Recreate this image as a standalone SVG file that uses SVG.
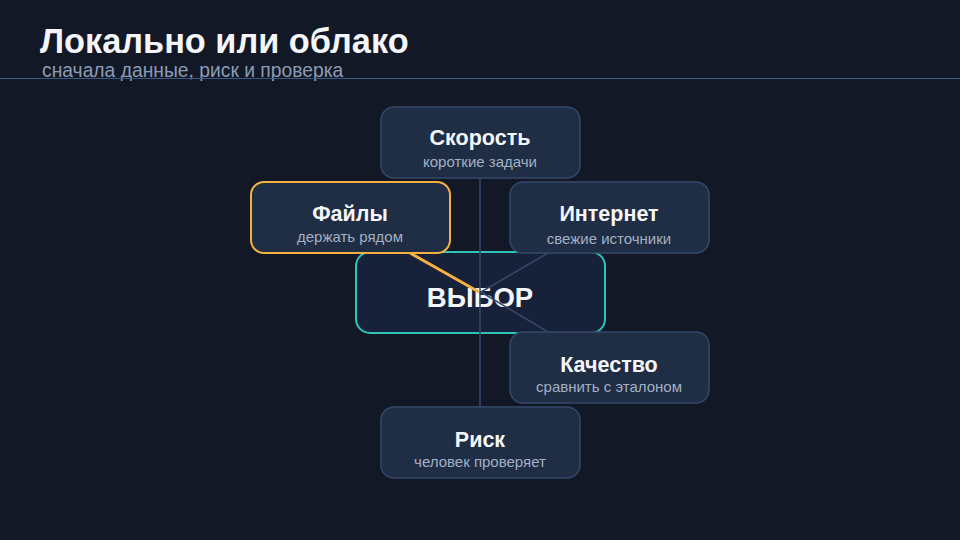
<svg xmlns="http://www.w3.org/2000/svg" width="960" height="540" viewBox="0 0 960 540">
<style>
.node{fill:#1f2d45;stroke:#34496a;stroke-width:1.5}
.t{font-family:"Liberation Sans",Arial,sans-serif;font-weight:bold;font-size:21.5px;fill:#f4f6fa;text-anchor:middle}
.s{font-family:"Liberation Sans",Arial,sans-serif;font-size:15px;fill:#a3b0c4;text-anchor:middle}
.c{stroke:#34496a;stroke-width:1.5;fill:none}
</style>
<rect width="960" height="540" fill="#121826"/>
<text x="40" y="53" font-family="'Liberation Sans',Arial,sans-serif" font-weight="bold" font-size="34.3" fill="#f4f6fa">Локально или облако</text>
<text x="42" y="77" font-family="'Liberation Sans',Arial,sans-serif" font-size="19.3" fill="#8b9bb4">сначала данные, риск и проверка</text>
<line x1="0" y1="78.5" x2="960" y2="78.5" stroke="#3b5a80" stroke-width="1"/>
<g id="center">
<rect x="356" y="252" width="249" height="81" rx="14" fill="#18213a" stroke="#2ec4b6" stroke-width="2"/>
<text x="480" y="307" font-family="'Liberation Sans',Arial,sans-serif" font-weight="bold" font-size="27.5" fill="#f4f6fa" text-anchor="middle">ВЫБОР</text>
</g>
<g id="connectors">
<line class="c" x1="480" y1="178" x2="480" y2="407"/>
<line x1="410" y1="253" x2="479" y2="292" stroke="#f5b042" stroke-width="3"/>
<line class="c" x1="548" y1="253" x2="481" y2="292"/>
<line class="c" x1="481" y1="292" x2="548" y2="332"/>
</g>
<g id="speed">
<rect class="node" x="381" y="107" width="199" height="71" rx="13"/>
<text class="t" x="480" y="145">Скорость</text>
<text class="s" x="480" y="167">короткие задачи</text>
</g>
<g id="files">
<rect x="251" y="182" width="199" height="71" rx="13" fill="#1f2d45" stroke="#f5b042" stroke-width="2"/>
<text class="t" x="350" y="221">Файлы</text>
<text class="s" x="350" y="242">держать рядом</text>
</g>
<g id="internet">
<rect class="node" x="510" y="182" width="199" height="71" rx="13"/>
<text class="t" x="609" y="221">Интернет</text>
<text class="s" x="609" y="244">свежие источники</text>
</g>
<g id="quality">
<rect class="node" x="510" y="332" width="199" height="71" rx="13"/>
<text class="t" x="609" y="372">Качество</text>
<text class="s" x="609" y="392">сравнить с эталоном</text>
</g>
<g id="risk">
<rect class="node" x="381" y="407" width="199" height="71" rx="13"/>
<text class="t" x="480" y="447">Риск</text>
<text class="s" x="480" y="467">человек проверяет</text>
</g>
</svg>
